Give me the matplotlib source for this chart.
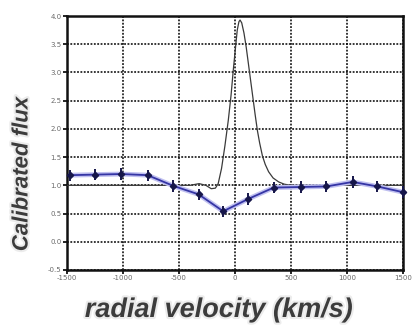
import matplotlib
matplotlib.use("Agg")
import matplotlib.pyplot as plt
import matplotlib.patheffects as pe

# Emission-line profile (black) and binned flux measurements (blue)
profile_v = [-1500, -600, -400, -320, -260, -212, -175, -150, -120, -90, -60, -35, -15,
             5, 20, 35, 45, 60, 80, 100, 120, 140, 160, 180, 200, 220, 245, 270,
             300, 340, 390, 440, 500, 1500]
profile_f = [1.0, 1.0, 1.0, 1.03, 1.0, 0.94, 0.95, 1.03, 1.3, 1.7, 2.15, 2.6, 3.05,
             3.45, 3.75, 3.9, 3.93, 3.88, 3.7, 3.45, 3.15, 2.85, 2.55, 2.25, 1.97,
             1.75, 1.52, 1.37, 1.24, 1.13, 1.06, 1.02, 1.0, 1.0]

bin_v = [-1470, -1245, -1015, -780, -550, -325, -105, 120, 345, 585, 815, 1050, 1270, 1495]
bin_f = [1.18, 1.19, 1.20, 1.18, 0.99, 0.84, 0.54, 0.76, 0.96, 0.97, 0.98, 1.06, 0.98, 0.88]
bin_err = [0.1] * len(bin_v)

x_ticks = [-1500, -1000, -500, 0, 500, 1000, 1500]
y_ticks = [-0.5, 0.0, 0.5, 1.0, 1.5, 2.0, 2.5, 3.0, 3.5, 4.0]

fig = plt.figure(figsize=(4.13, 3.28), dpi=100)
ax = fig.add_axes([0.162, 0.177, 0.814, 0.774])

ax.set_xlim(-1500, 1500)
ax.set_ylim(-0.5, 4.0)
ax.set_xticks(x_ticks)
ax.set_yticks(y_ticks)
ax.set_xticklabels([str(t) for t in x_ticks])
ax.set_yticklabels([f"{t:.1f}" for t in y_ticks])

ax.grid(True, color="black", linestyle=(0, (1.2, 1.0)), linewidth=1.1)
ax.set_axisbelow(True)
for s in ax.spines.values():
    s.set_linewidth(1.8)
    s.set_color("#111111")

ax.tick_params(axis="both", direction="out", length=3, width=1.2,
               labelsize=5, labelcolor="#6a6a6a", pad=1)

ax.plot(profile_v, profile_f, color="#3a3a3a", linewidth=0.9, zorder=3)

ax.plot(bin_v, bin_f, color="#c0c0f0", linewidth=3.5, zorder=4, solid_capstyle="round")
ax.plot(bin_v, bin_f, color="#3535a5", linewidth=1.3, zorder=5)
ax.errorbar(bin_v, bin_f, yerr=bin_err, fmt="D", markersize=3.2, color="#16164a",
            ecolor="#16164a", elinewidth=1.4, capsize=0, zorder=6, clip_on=False)

halo = [pe.withStroke(linewidth=3, foreground="#ececec")]
label_style = dict(fontweight="bold", style="italic", family="Liberation Sans",
                   color="#3c3c3c", path_effects=halo, ha="center", va="center")
fig.text(219 / 413, 1 - 310 / 328, "radial velocity (km/s)", fontsize=19.5, **label_style)
fig.text(22 / 413, 1 - 174 / 328, "Calibrated flux", fontsize=16, rotation=90,
         **label_style)

fig.savefig("out.png", dpi=100)
